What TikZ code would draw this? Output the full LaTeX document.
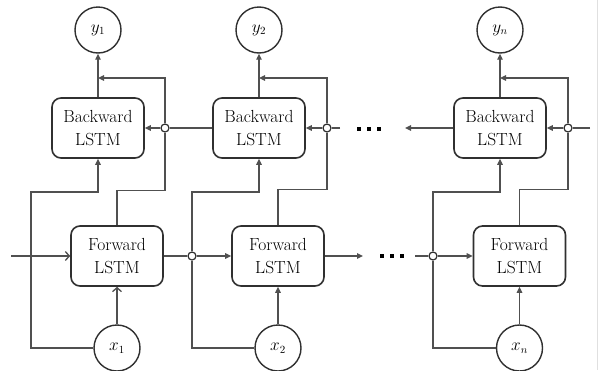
\documentclass[tikz,border=0pt]{standalone}
\usetikzlibrary{arrows.meta}
\definecolor{linec}{HTML}{505050}
\definecolor{boxc}{HTML}{303030}
\begin{document}
\begin{tikzpicture}[x=1pt,y=-1pt,
 line/.style={draw=linec, line width=1.3pt},
 box/.style={draw=boxc, line width=1.6pt, rounded corners=9pt, minimum width=92pt, minimum height=60pt, align=center, font=\fontsize{17.5}{22.5}\selectfont, inner sep=0pt},
 io/.style={circle, draw=boxc, line width=1.4pt, minimum size=46pt, inner sep=0pt, font=\fontsize{16}{18}\selectfont},
 junc/.style={circle, draw=boxc, fill=white, line width=1.2pt, minimum size=8pt, inner sep=0pt},
 dotn/.style={rectangle, fill=black, minimum size=4pt, inner sep=0pt},
 tri/.style={-{Triangle[length=6pt,width=5.5pt]}},
 barb/.style={-{Straight Barb[length=4pt,width=9pt]}}
]
\useasboundingbox (0,0) rectangle (600,370);
\fill[white] (0,0) rectangle (600,370);
\draw[black!12, line width=0.8pt] (597,0) -- (597,370);

% boxes
\node[box] (b1) at (98,128) {Backward\\LSTM};
\node[box] (b2) at (259,128) {Backward\\LSTM};
\node[box] (bn) at (500,128) {Backward\\LSTM};
\node[box] (f1) at (117,256) {Forward\\LSTM};
\node[box] (f2) at (278,256) {Forward\\LSTM};
\node[box] (fn) at (519.5,256) {Forward\\LSTM};

% io circles
\node[io] (y1) at (98,30) {$y_1$};
\node[io] (y2) at (259,30) {$y_2$};
\node[io] (yn) at (500,30) {$y_n$};
\node[io] (x1) at (117,348) {$x_1$};
\node[io] (x2) at (278,348) {$x_2$};
\node[io] (xn) at (519.5,348) {$x_n$};

% junctions
\node[junc] (jb1) at (165,128) {};
\node[junc] (jb2) at (327,128) {};
\node[junc] (jbn) at (568,128) {};
\node[junc] (jf1) at (192,256) {};
\node[junc] (jfn) at (433,256) {};

% dots
\node[dotn] (d1) at (359,129) {};
\node[dotn] (d2) at (369,129) {};
\node[dotn] (d3) at (379,129) {};
\node[dotn] (d4) at (382,256) {};
\node[dotn] (d5) at (392,256) {};
\node[dotn] (d6) at (402,256) {};

% free ends
\coordinate (fb1) at (98,78);
\coordinate (fb2) at (259,78);
\coordinate (fbn) at (500,78);
\coordinate (c1) at (31,192);
\coordinate (c2) at (192,192);
\coordinate (c3) at (433,192);
\coordinate (in) at (11,256);
\coordinate (e2) at (340,128);
\coordinate (e3) at (405,128);
\coordinate (e4) at (590,128);
\coordinate (e5) at (363,256);
\coordinate (e6) at (415,256);

% column 1
\draw[line,tri] (b1.north) -- (y1.south);
\draw[line] (f1.north) -- ++(0,-35) -| (jb1.south);
\draw[line,tri] (jb1.north) |- (fb1);
\draw[line] (b2.west) -- (jb1.east);
\draw[line,tri] (jb1.west) -- (b1.east);
\draw[line,tri] (x1.west) -| (c1) -| (b1.south);
\draw[line,barb] (in) -- (f1.west);
\draw[line,barb] (x1.north) -- (f1.south);
\draw[line] (f1.east) -- (jf1.west);
\draw[line,tri] (jf1.east) -- (f2.west);

% column 2
\draw[line] (x2.west) -| (jf1.south);
\draw[line,tri] (jf1.north) -- (c2) -| (b2.south);
\draw[line,tri] (x2.north) -- (f2.south);
\draw[line] (f2.north) -- ++(0,-36) -| (jb2.south);
\draw[line,tri] (jb2.north) |- (fb2);
\draw[line,tri] (b2.north) -- (y2.south);
\draw[line] (e2) -- (jb2.east);
\draw[line,tri] (jb2.west) -- (b2.east);
\draw[line,tri] (f2.east) -- (e5);

% column n
\draw[line,tri] (bn.west) -- (e3);
\draw[line,tri] (bn.north) -- (yn.south);
\draw[line] (e4) -- (jbn.east);
\draw[line,tri] (jbn.west) -- (bn.east);
\draw[line] (fn.north) -- ++(0,-36) -| (jbn.south);
\draw[line,tri] (jbn.north) |- (fbn);
\draw[line] (e6) -- (jfn.west);
\draw[line,tri] (jfn.east) -- (fn.west);
\draw[line] (xn.west) -| (jfn.south);
\draw[line,tri] (jfn.north) -- (c3) -| (bn.south);
\draw[line,tri] (xn.north) -- (fn.south);
\end{tikzpicture}
\end{document}
